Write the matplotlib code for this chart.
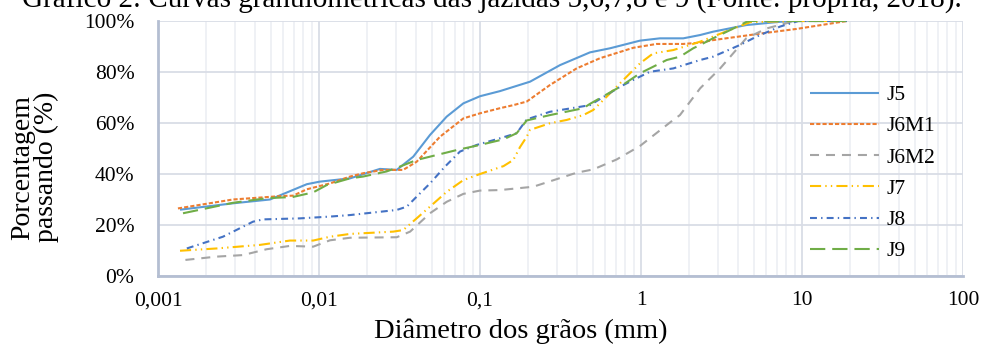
import matplotlib
matplotlib.use("Agg")
import matplotlib.pyplot as plt
from matplotlib.ticker import FixedLocator, NullFormatter, LogLocator

plt.rcParams['font.family'] = ['Liberation Serif', 'DejaVu Serif']
plt.rcParams['lines.scale_dashes'] = False

# ---- data (diameter in mm, percent passing) ----
j5_d = [0.00137, 0.00292, 0.00496, 0.0084, 0.0101, 0.0156, 0.0239, 0.0304, 0.0385, 0.0489, 0.0621,
        0.0788, 0.1, 0.133, 0.2045, 0.314, 0.482, 0.642, 0.986, 1.31, 1.83, 2.33, 2.8, 4.5, 7.3, 9.5, 19]
j5_p = [26, 28.5, 30, 36, 37, 38.3, 42, 41.6, 46.8, 55.3, 62.5,
        67.7, 70.5, 72.5, 76.2, 82.7, 87.7, 89.3, 92.3, 93.2, 93.2, 94.5, 95.8, 98.4, 99.7, 100, 100]

j6m1_d = [0.00133, 0.00292, 0.00597, 0.0069, 0.0084, 0.0117, 0.0156, 0.0188, 0.025, 0.0333, 0.0404,
          0.0564, 0.0788, 0.1, 0.133, 0.161, 0.195, 0.272, 0.398, 0.556, 0.896, 1.25, 1.83, 2.33,
          2.8, 5.72, 9.27, 19]
j6m1_p = [26.5, 30, 31.4, 31.5, 34, 36.3, 39, 40.3, 41.6, 41.6, 44.8,
          54.6, 61.8, 63.8, 65.8, 67, 68.4, 74.9, 81.4, 85.4, 89.5, 91, 91, 91.5,
          92.5, 95.2, 96.9, 100]

j6m2_d = [0.00148, 0.00231, 0.00337, 0.00473, 0.0066, 0.0092, 0.0117, 0.0156, 0.0304, 0.0368, 0.0489,
          0.0621, 0.0788, 0.1, 0.133, 0.214, 0.398, 0.505, 0.706, 0.986, 1.586, 1.745, 2.33, 3.1,
          4.5, 6.04, 8.42, 9.5, 19]
j6m2_p = [6.3, 7.6, 8.2, 10.5, 11.8, 11.5, 14, 15, 15.2, 17.4, 24.6,
          29.1, 32.2, 33.5, 33.7, 35, 40.5, 41.8, 45.7, 51, 61.2, 63.1, 73.6, 81.4,
          93.2, 97.1, 99.5, 100, 100]

j7_d = [0.00137, 0.00231, 0.0043, 0.0066, 0.0092, 0.0117, 0.0156, 0.0289, 0.0333, 0.0404, 0.0489,
        0.0621, 0.0788, 0.1, 0.14, 0.161, 0.177, 0.195, 0.2045, 0.272, 0.3455, 0.438, 0.505, 0.612,
        0.815, 0.986, 1.19, 1.586, 2.01, 2.33, 3.57, 4.8, 9.5, 19]
j7_p = [9.9, 10.8, 12.2, 13.9, 13.9, 15.4, 16.5, 17.4, 18, 22.6, 27.2,
        33, 37.6, 40, 43.1, 45.5, 50.5, 54.6, 57.3, 59.9, 61.2, 63.1, 65.1, 70.3,
        78.2, 83.4, 87.3, 88.6, 90.6, 91.9, 96.5, 99.6, 100, 100]

j8_d = [0.00151, 0.00253, 0.00389, 0.00449, 0.00762, 0.0117, 0.0156, 0.0304, 0.0351, 0.0404, 0.0489,
        0.0606, 0.0751, 0.0954, 0.133, 0.169, 0.195, 0.272, 0.482, 0.741, 0.896, 1.137, 1.586, 2.33,
        2.8, 4.12, 5.23, 7.3, 9.5, 19]
j8_p = [10.8, 15.4, 21.3, 22.2, 22.6, 23.3, 23.9, 25.9, 27.2, 31.1, 36.3,
        42.9, 48.8, 51.4, 54, 56, 61.4, 64.4, 67, 74.2, 76.9, 80.1, 81.4, 84.7,
        86, 90.6, 93.9, 97.8, 100, 100]

j9_d = [0.00143, 0.00292, 0.00473, 0.0069, 0.0092, 0.0112, 0.0156, 0.0188, 0.0263, 0.0318, 0.0404,
        0.0717, 0.1, 0.14, 0.169, 0.195, 0.272, 0.438, 0.482, 0.741, 0.986, 1.444, 1.745, 2.11,
        2.33, 2.8, 3.73, 4.535, 4.8, 19]
j9_p = [24.6, 28.7, 30.5, 31, 32.8, 35.7, 38.3, 39, 41, 42.9, 45.5,
        49.4, 51.4, 53.6, 56, 61, 63.1, 65.8, 67.5, 74.2, 79.5, 84.7, 86, 89.3,
        90.6, 93.2, 97, 99.7, 100, 100]

labels = ["J5", "J6M1", "J6M2", "J7", "J8", "J9"]
x_ticks = [0.001, 0.01, 0.1, 1, 10, 100]
x_ticklabels = ["0,001", "0,01", "0,1", "1", "10", "100"]
y_ticks = [0, 20, 40, 60, 80, 100]
y_ticklabels = ["0%", "20%", "40%", "60%", "80%", "100%"]

series = [(j5_d, j5_p), (j6m1_d, j6m1_p), (j6m2_d, j6m2_p), (j7_d, j7_p), (j8_d, j8_p), (j9_d, j9_p)]
colors = ["#5B9BD5", "#ED7D31", "#A5A5A5", "#FFC000", "#4472C4", "#70AD47"]
styles = ["-", (0, (3, 1.5)), (0, (6.5, 5)), (0, (8, 3, 1, 3, 1, 3)), (0, (5, 3, 1, 3)), (0, (11, 5))]

fig = plt.figure(figsize=(9.84, 3.45), dpi=100)
ax = fig.add_axes([158/984, 1-276/345, (963-158)/984, (276-21)/345])

for (d, p), c, ls, lab in zip(series, colors, styles, labels):
    ax.plot(d, p, color=c, linestyle=ls, lw=1.5, label=lab, solid_capstyle='butt', dash_capstyle='butt')

ax.set_xscale('log')
ax.set_xlim(0.001, 100)
ax.set_ylim(0, 100)
ax.xaxis.set_major_locator(FixedLocator(x_ticks))
ax.set_xticklabels(x_ticklabels)
ax.xaxis.set_minor_locator(LogLocator(base=10, subs=range(2, 10), numticks=20))
ax.xaxis.set_minor_formatter(NullFormatter())
ax.set_yticks(y_ticks)
ax.set_yticklabels(y_ticklabels)

ax.grid(True, which='major', color='#D9DDE6', lw=1.3)
ax.grid(True, which='minor', axis='x', color='#EEF0F4', lw=1.3)
ax.set_axisbelow(True)
ax.tick_params(axis='both', which='both', length=0, labelsize=15.5)
ax.tick_params(axis='y', pad=17)
ax.tick_params(axis='x', pad=11)
for s in ['top', 'right']:
    ax.spines[s].set_visible(False)
for s in ['left', 'bottom']:
    ax.spines[s].set_color('#B4BED2')
    ax.spines[s].set_linewidth(2)

fig.text(521/984, 1-331/345, "Diâmetro dos grãos (mm)", ha='center', va='center', fontsize=20.5)
fig.text(35/984, 1-167/345, "Porcentagem\npassando (%)", rotation=90, ha='center', va='center',
         fontsize=20, linespacing=0.92)

leg = ax.legend(loc='upper left', bbox_to_anchor=(810/984, 1-85/345), bbox_transform=fig.transFigure,
                frameon=False, fontsize=15.5, handlelength=3.2, handletextpad=0.35,
                labelspacing=0.52, borderpad=0, borderaxespad=0)

fig.text(22/984, 1-7/345, "Gráfico 2: Curvas granulométricas das jazidas 5,6,7,8 e 9 (Fonte: própria, 2018).",
         ha='left', va='baseline', fontsize=21)

fig.savefig("out.png", dpi=100)
